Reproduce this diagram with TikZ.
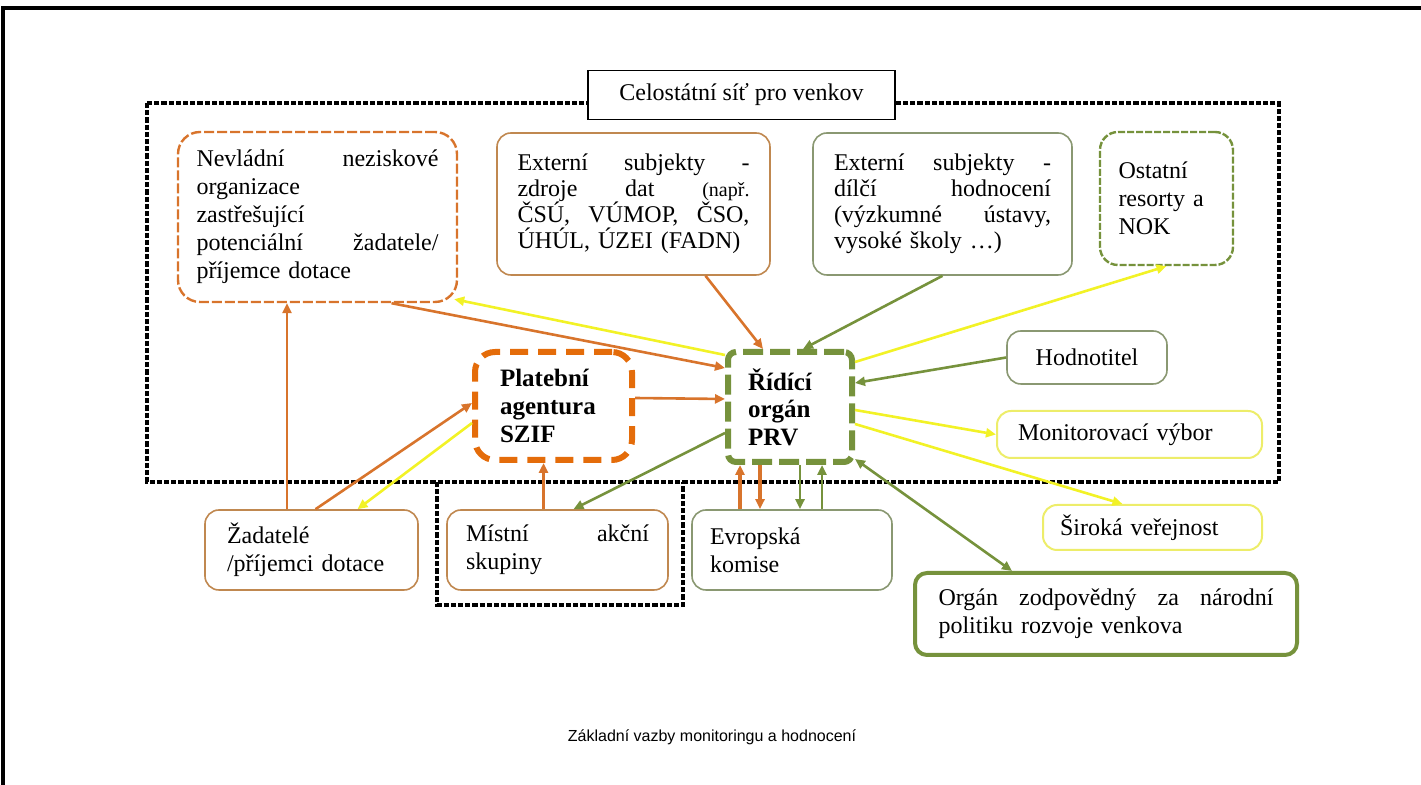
\documentclass[tikz,border=0pt]{standalone}
\usepackage{fontspec}
\setmainfont{Liberation Serif}
\setsansfont{Liberation Sans}
\usepackage{tikz}
\usetikzlibrary{shapes, arrows.meta, positioning, calc}

\definecolor{prvgreen}{HTML}{76923C}
\definecolor{greybox}{HTML}{8A9872}
\definecolor{szifor}{HTML}{E46C0A}
\definecolor{arrorange}{HTML}{D8742C}
\definecolor{brownbox}{HTML}{C08850}
\definecolor{arryellow}{HTML}{F2F226}
\definecolor{boxyellow}{HTML}{EDED6A}

\begin{document}
\begin{tikzpicture}[x=0.5pt,y=-0.5pt,
	box/.style={draw, fill=white, rounded corners=7pt, line width=0.8pt, inner sep=0pt,
		align=left, font=\fontsize{12}{14}\selectfont},
	boldbox/.style={box, font=\bfseries\fontsize{12.5}{13.8}\selectfont},
	dotframe/.style={line width=1.7pt, dash pattern=on 2.6pt off 1pt},
	arr/.style={line width=1.3pt, -{Triangle[length=5pt,width=4.5pt]}},
	both/.style={line width=1.3pt, {Triangle[length=5pt,width=4.5pt]}-{Triangle[length=5pt,width=4.5pt]}}]
	\useasboundingbox (0,0) rectangle (1421,785);
	\draw[line width=1.8pt] (3,785) -- (3,8) -- (1421,8);

	\draw[dotframe] (147,103) rectangle (1279,482);
	\draw[dotframe] (437,482) -- (437,605) -- (683,605) -- (683,482);

	\node[box, rounded corners=0pt, draw=black, line width=0.9pt, align=center,
		minimum width=153.5pt, minimum height=24.5pt] (celo) at (741.5,95) {Celostátní síť pro venkov};

	\node[box, draw=arrorange, line width=1.2pt, dash pattern=on 5pt off 1.5pt, rounded corners=11pt,
		text width=121pt, minimum width=139.5pt, minimum height=85pt] (nevl) at (317.5,217)
		{Nevládní \hfill neziskové\\ organizace\\ zastřešující\\ potenciální \hfill žadatele/\\ příjemce dotace};
	\node[box, draw=brownbox, font=\fontsize{12}{13}\selectfont,
		text width=116pt, minimum width=136.5pt, minimum height=71pt] (zdroje) at (633.5,204)
		{Externí \hfill subjekty \hfill -\\ zdroje \hfill dat \hfill {\fontsize{10}{13}\selectfont(např.}\\
		ČSÚ, \hfill VÚMOP, \hfill ČSO,\\ ÚHÚL, ÚZEI (FADN)};
	\node[box, draw=greybox, font=\fontsize{12}{13}\selectfont,
		text width=108.5pt, minimum width=129.5pt, minimum height=71pt] (hodn) at (942.5,204)
		{Externí \hfill subjekty \hfill -\\ dílčí \hfill hodnocení\\ (výzkumné \hfill ústavy,\\ vysoké školy …)};
	\node[box, draw=prvgreen, line width=1.2pt, dash pattern=on 3.5pt off 1pt, rounded corners=9pt,
		text width=48pt, minimum width=66.5pt, minimum height=66.5pt] (ostatni) at (1166.5,198.5)
		{Ostatní\\ resorty a\\ NOK\\[4pt]};

	\node[boldbox, draw=szifor, line width=3pt, dash pattern=on 9pt off 5pt, rounded corners=10pt,
		text width=53.5pt, minimum width=78.5pt, minimum height=54pt] (szif) at (553.5,406)
		{Platební\\ agentura\\ SZIF};
	\node[boldbox, draw=prvgreen, line width=3pt, dash pattern=on 10pt off 3.5pt, rounded corners=4pt,
		text width=42pt, minimum width=62pt, minimum height=55pt] (prv) at (790,407)
		{Řídící\\ orgán\\ PRV};

	\node[box, draw=greybox, align=center,
		minimum width=80pt, minimum height=26.5pt] (hodnotitel) at (1087,357.5) {Hodnotitel};
	\node[box, draw=boxyellow, line width=1pt,
		text width=111.5pt, minimum width=132.5pt, minimum height=23.5pt] (monit) at (1129.5,434.5)
		{Monitorovací výbor};
	\node[box, draw=boxyellow, line width=1pt,
		text width=92.5pt, minimum width=109.5pt, minimum height=22.5pt] (siroka) at (1152.5,527.5)
		{Široká veřejnost};
	\node[box, draw=prvgreen, line width=2pt, rounded corners=6pt,
		text width=167.5pt, minimum width=191pt, minimum height=41pt] (organ) at (1106,614)
		{Orgán \hfill zodpovědný \hfill za \hfill národní\\ politiku rozvoje venkova};

	\node[box, draw=brownbox,
		text width=84.5pt, minimum width=106.5pt, minimum height=40pt] (zadatele) at (311.5,550)
		{Žadatelé\\ /příjemci dotace};
	\node[box, draw=brownbox,
		text width=91.5pt, minimum width=110.5pt, minimum height=40pt] (mas) at (557.5,550)
		{Místní \hfill akční\\ skupiny};
	\node[box, draw=greybox,
		text width=82pt, minimum width=100pt, minimum height=40pt] (komise) at (792,550)
		{Evropská\\ komise};

	\node[font=\sffamily\fontsize{8}{10}\selectfont] (caption) at (712,737)
		{Základní vazby monitoringu a hodnocení};

	\coordinate (m1) at ($(mas.north)+(-14,0)$);
	\coordinate (z1) at ($(zadatele.north)+(-24.5,0)$);
	\coordinate (k1) at ($(komise.north)+(-52,0)$);
	\coordinate (k2) at ($(komise.north)+(-32,0)$);
	\coordinate (k3) at ($(komise.north)+(8,0)$);
	\coordinate (k4) at ($(komise.north)+(30,0)$);

	\draw[arr, arrorange] ([xshift=37pt]nevl.south) -- ([yshift=19.5pt]prv.west);
	\draw[arr, arrorange] ([xshift=36pt]zdroje.south) -- ([xshift=-13.5pt]prv.north);
	\draw[arr, arrorange] ([yshift=4pt]szif.east) -- ([yshift=4pt]prv.west);
	\draw[arr, arrorange] (m1) -- (m1 |- szif.south);
	\draw[arr, arrorange] (z1) -- (z1 |- nevl.south);
	\draw[arr, arrorange] ([xshift=2pt]zadatele.north) -- ([yshift=1.5pt]szif.west);
	\draw[arr, arrorange, line width=1.6pt] (k1) -- (k1 |- prv.south);
	\draw[arr, arrorange, line width=1.6pt] (k2 |- prv.south) -- (k2);

	\draw[arr, prvgreen] (hodn.south) -- ([xshift=6.5pt]prv.north);
	\draw[arr, prvgreen] (hodnotitel.west) -- ([yshift=12pt]prv.east);
	\draw[arr, prvgreen] ([yshift=-13pt]prv.west) -- ([xshift=8pt]mas.north);
	\draw[both, prvgreen] ([yshift=3pt]prv.south east) -- ([xshift=-47pt]organ.north);
	\draw[arr, prvgreen] (k3 |- prv.south) -- (k3);
	\draw[arr, prvgreen] (k4) -- (k4 |- prv.south);

	\draw[arr, arryellow] ([yshift=-3pt]prv.north west) -- ([xshift=-2pt,yshift=2pt]nevl.south east);
	\draw[arr, arryellow] ([yshift=-6.5pt]prv.north east) -- (ostatni.south);
	\draw[arr, arryellow] ([yshift=-1.5pt]prv.east) -- (monit.west);
	\draw[arr, arryellow] ([yshift=-8.5pt]prv.east) -- ([xshift=-15pt]siroka.north);
	\draw[arr, arryellow] ([yshift=-8.5pt]szif.west) -- ([xshift=23pt]zadatele.north);
\end{tikzpicture}
\end{document}
